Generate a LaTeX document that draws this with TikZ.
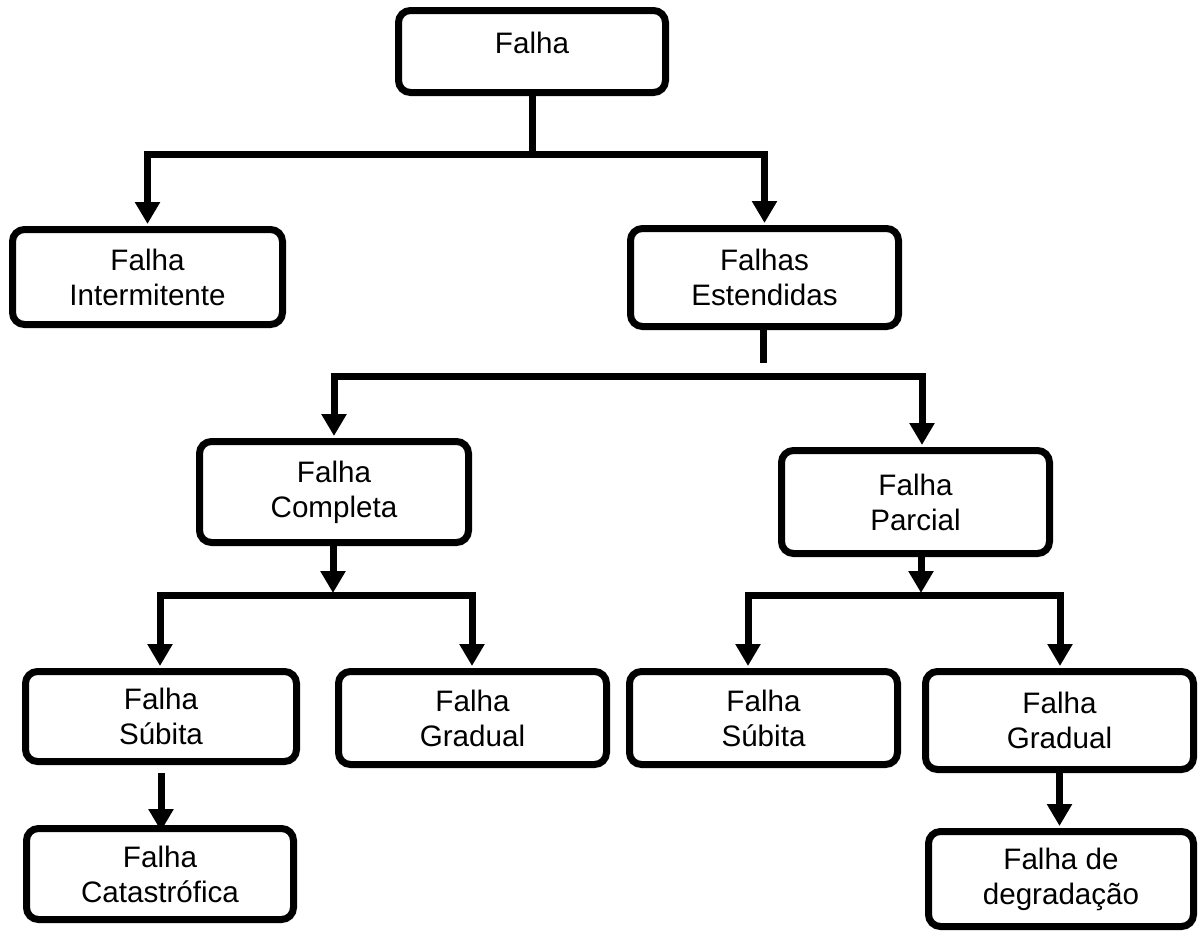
\documentclass[tikz,border=0pt]{standalone}
\usepackage{fontspec}
\setmainfont{Liberation Sans}
\usetikzlibrary{arrows.meta}
\begin{document}
\begin{tikzpicture}[x=0.5pt,y=-0.5pt,
  box/.style={draw,line width=3.5pt,rounded corners=6pt,align=center,inner sep=0pt,
    font=\fontsize{14.8}{17.5}\selectfont},
  link/.style={line width=3.5pt,>={Triangle[width=12pt 0 0,length=11pt 0 0]},shorten >=1pt}]
\useasboundingbox (0,0) rectangle (1199,932);

% boxes
\node[box,minimum width=133.5pt,minimum height=41pt,text height=10.6pt,text depth=8.5pt] (falha) at (532,51.5) {Falha};
\node[box,minimum width=135pt,minimum height=47.5pt] (inter) at (147.5,277) {Falha\\Intermitente};
\node[box,minimum width=134pt,minimum height=49pt] (est) at (764.5,277.5) {Falhas\\Estendidas};
\node[box,minimum width=134.5pt,minimum height=50.5pt] (comp) at (334,492) {Falha\\Completa};
\node[box,minimum width=134pt,minimum height=51.5pt] (par) at (915.5,502) {Falha\\Parcial};
\node[box,minimum width=135.5pt,minimum height=45pt] (sub1) at (161,716.5) {Falha\\Súbita};
\node[box,minimum width=134pt,minimum height=46.5pt] (grad1) at (472.5,718) {Falha\\Gradual};
\node[box,minimum width=134pt,minimum height=46.5pt] (sub2) at (763.5,718) {Falha\\Súbita};
\node[box,minimum width=134pt,minimum height=49pt] (grad2) at (1059.5,720.5) {Falha\\Gradual};
\node[box,minimum width=133.5pt,minimum height=45.5pt] (catas) at (160,874) {Falha\\Catastrófica};
\node[box,minimum width=132.5pt,minimum height=47.5pt] (degr) at (1061,879) {Falha de\\degradação};

% first level
\coordinate (j1) at (532,154);
\draw[link] (falha.south) -- (j1);
\draw[link,<->,shorten <=1pt] (inter.north) -- (inter.north |- j1) -- (est.north |- j1) -- (est.north);

% second level
\coordinate (s2) at (763,365);
\coordinate (j2) at (763,376);
\coordinate (p2) at (922,376);
\draw[link] (est.south -| s2) -- (s2);
\draw[link,<->,shorten <=1pt] (comp.north) -- (comp.north |- j2) -- (p2) -- (p2 |- par.north);

% below Falha Completa
\coordinate (j3) at (333,595);
\coordinate (l3) at (160,595);
\coordinate (r3) at (472,595);
\draw[link,->] (j3 |- comp.south) -- (j3);
\draw[link,<->,shorten <=1pt] (l3 |- sub1.north) -- (l3) -- (r3) -- (r3 |- grad1.north);

% below Falha Parcial
\coordinate (j4) at (921,595);
\coordinate (l4) at (748,595);
\coordinate (r4) at (1060,595);
\draw[link,->] (j4 |- par.south) -- (j4);
\draw[link,<->,shorten <=1pt] (l4 |- sub2.north) -- (l4) -- (r4) -- (r4 |- grad2.north);

% last level
\draw[link,->] ([yshift=-4pt]sub1.south) -- ([yshift=-4pt]sub1.south |- catas.north);
\draw[link,->] (grad2.south) -- (grad2.south |- degr.north);
\end{tikzpicture}
\end{document}
